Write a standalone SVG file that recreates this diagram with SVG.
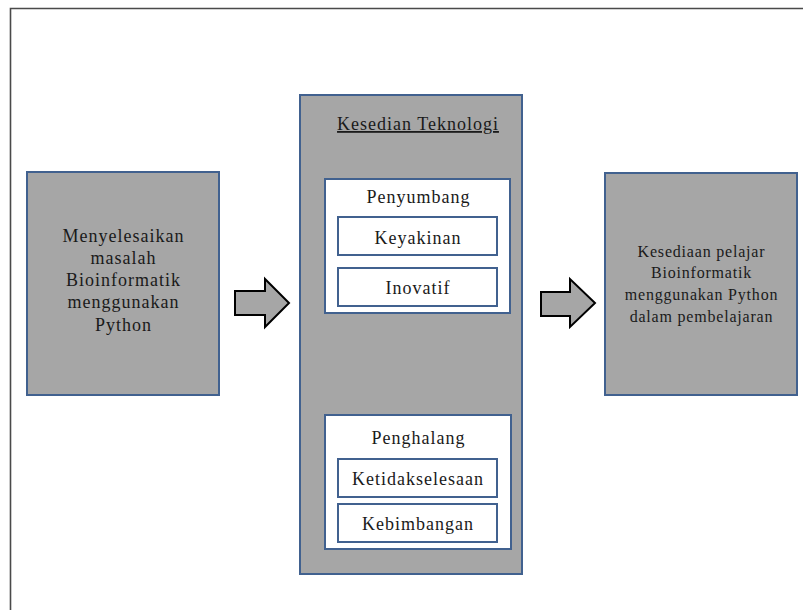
<svg xmlns="http://www.w3.org/2000/svg" width="803" height="610" viewBox="0 0 803 610">
  <style>
    .frame { fill: none; stroke: #4a4a4a; stroke-width: 1.6; }
    .grey { fill: #a6a6a6; stroke: #41618f; stroke-width: 2; }
    .white { fill: #ffffff; stroke: #41618f; stroke-width: 2; }
    .arrow { fill: #a6a6a6; stroke: #000000; stroke-width: 2; stroke-linejoin: miter; }
    text { font-family: 'Liberation Serif', 'DejaVu Serif', serif; font-size: 18px; letter-spacing: 1px; fill: #1a1a1a; text-anchor: middle; }
    .small { font-size: 16px; letter-spacing: 0.8px; }
  </style>

  <rect width="803" height="610" fill="#ffffff"/>
  <!-- page frame (top and left edges) -->
  <path class="frame" d="M10.5 610 V8.5 H803"/>

  <g id="node-input">
    <rect class="grey" x="27" y="172" width="192" height="223"/>
    <text x="123.5" y="242">Menyelesaikan</text>
    <text x="123.5" y="264">masalah</text>
    <text x="123.5" y="286">Bioinformatik</text>
    <text x="123.5" y="308">menggunakan</text>
    <text x="123.5" y="331">Python</text>
  </g>

  <g id="node-teknologi">
    <rect class="grey" x="300" y="95" width="222" height="479"/>
    <text x="418" y="130" text-decoration="underline">Kesedian Teknologi</text>
  </g>

  <g id="node-penyumbang">
    <rect class="white" x="325" y="179" width="185" height="134"/>
    <text x="418.5" y="203">Penyumbang</text>
  </g>
  <g id="node-keyakinan">
    <rect class="white" x="338" y="217" width="159" height="38"/>
    <text x="418" y="244">Keyakinan</text>
  </g>
  <g id="node-inovatif">
    <rect class="white" x="338" y="268" width="159" height="38"/>
    <text x="418" y="294">Inovatif</text>
  </g>

  <g id="node-penghalang">
    <rect class="white" x="325" y="415" width="186" height="134"/>
    <text x="418.5" y="444">Penghalang</text>
  </g>
  <g id="node-ketidakselesaan">
    <rect class="white" x="338" y="459" width="159" height="38"/>
    <text x="418" y="485">Ketidakselesaan</text>
  </g>
  <g id="node-kebimbangan">
    <rect class="white" x="338" y="504" width="159" height="38"/>
    <text x="418" y="530">Kebimbangan</text>
  </g>

  <g id="node-output">
    <rect class="grey" x="605" y="173" width="192" height="222"/>
    <text class="small" x="701.5" y="257">Kesediaan pelajar</text>
    <text class="small" x="701.5" y="278">Bioinformatik</text>
    <text class="small" x="701.5" y="300">menggunakan Python</text>
    <text class="small" x="701.5" y="322">dalam pembelajaran</text>
  </g>

  <g id="connectors">
    <path class="arrow" d="M235 291 H265 V279 L289 303 L265 327 V315 H235 Z"/>
    <path class="arrow" d="M541 292 H570 V279 L595 303 L570 327 V316 H541 Z"/>
  </g>
</svg>
